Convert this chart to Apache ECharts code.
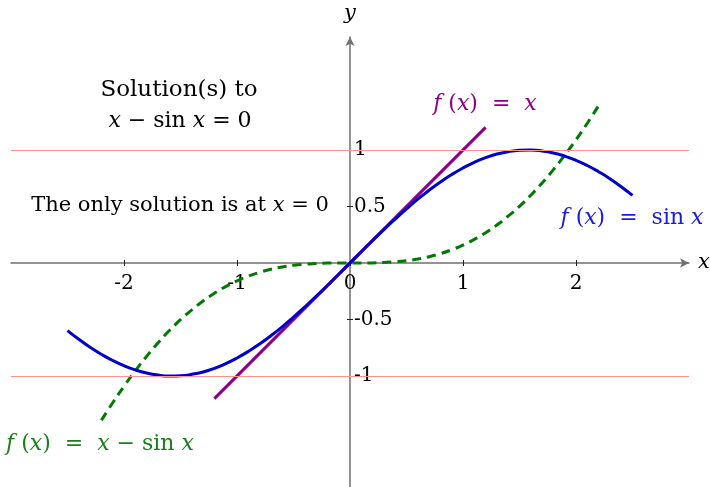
<!DOCTYPE html>
<html>
<head>
<meta charset="utf-8">
<script src="https://cdn.jsdelivr.net/npm/echarts@6/dist/echarts.min.js"></script>
<style>
  html, body { margin: 0; padding: 0; background: #fff; }
  #chart { width: 710px; height: 487px; }
</style>
</head>
<body>
<div id="chart"></div>
<script>
// sample points
var sinX = [-2.5, -2.4, -2.3, -2.2, -2.1, -2.0, -1.9, -1.8, -1.7, -1.6, -1.5, -1.4, -1.3, -1.2, -1.1, -1.0, -0.9, -0.8, -0.7, -0.6, -0.5, -0.4, -0.3, -0.2, -0.1,
  0, 0.1, 0.2, 0.3, 0.4, 0.5, 0.6, 0.7, 0.8, 0.9, 1.0, 1.1, 1.2, 1.3, 1.4, 1.5, 1.6, 1.7, 1.8, 1.9, 2.0, 2.1, 2.2, 2.3, 2.4, 2.5];
var sinY = [-0.598, -0.675, -0.746, -0.808, -0.863, -0.909, -0.946, -0.974, -0.992, -1.000, -0.997, -0.985, -0.964, -0.932, -0.891, -0.841, -0.783, -0.717, -0.644, -0.565, -0.479, -0.389, -0.296, -0.199, -0.100,
  0, 0.100, 0.199, 0.296, 0.389, 0.479, 0.565, 0.644, 0.717, 0.783, 0.841, 0.891, 0.932, 0.964, 0.985, 0.997, 1.000, 0.992, 0.974, 0.946, 0.909, 0.863, 0.808, 0.746, 0.675, 0.598];

var diffX = [-2.2, -2.1, -2.0, -1.9, -1.8, -1.7, -1.6, -1.5, -1.4, -1.3, -1.2, -1.1, -1.0, -0.9, -0.8, -0.7, -0.6, -0.5, -0.4, -0.3, -0.2, -0.1,
  0, 0.1, 0.2, 0.3, 0.4, 0.5, 0.6, 0.7, 0.8, 0.9, 1.0, 1.1, 1.2, 1.3, 1.4, 1.5, 1.6, 1.7, 1.8, 1.9, 2.0, 2.1, 2.2];
var diffY = [-1.392, -1.237, -1.091, -0.954, -0.826, -0.708, -0.600, -0.502, -0.415, -0.336, -0.268, -0.209, -0.159, -0.117, -0.083, -0.056, -0.035, -0.021, -0.011, -0.005, -0.001, 0.000,
  0, 0.000, 0.001, 0.005, 0.011, 0.021, 0.035, 0.056, 0.083, 0.117, 0.159, 0.209, 0.268, 0.336, 0.415, 0.502, 0.600, 0.708, 0.826, 0.954, 1.091, 1.237, 1.392];

var identX = [-1.2, 1.2];
var identY = [-1.2, 1.2];

var xTicks = [-2, -1, 0, 1, 2];
var yTicks = [-1, -0.5, 0.5, 1];
var refLines = [1, -1];

var SERIF = "'DejaVu Serif', serif";

function zip(xs, ys) {
  return xs.map(function (x, i) { return [x, ys[i]]; });
}

var chart = echarts.init(document.getElementById('chart'));

// grid: x -3..3 over 678px, y -2..2 over 452px -> origin at (350, 263)
var G = { left: 11, top: 37, width: 678, height: 452 };
var xShift = -(G.height / 2);   // move x axes from grid edge to y = 0
var yShift = -(G.width / 2);    // move y axes from grid edge to x = 0

var axisLineStyle = { color: '#707070', width: 1.5 };
var tickStyle = { color: '#222', width: 1 };

var option = {
  animation: false,
  grid: { left: G.left, top: G.top, width: G.width, height: G.height, outerBoundsMode: 'none', containLabel: false },
  xAxis: [
    {
      type: 'value', min: -3, max: 3, position: 'bottom', offset: xShift,
      axisLine: { onZero: false, lineStyle: axisLineStyle, symbol: ['none', 'arrow'], symbolSize: [7, 9] },
      axisTick: { show: true, length: 3, customValues: xTicks, lineStyle: tickStyle },
      axisLabel: { customValues: xTicks, color: '#000', fontFamily: SERIF, fontSize: 20, margin: 11,
        formatter: function (v) { return String(v); } },
      splitLine: { show: false },
      name: 'x', nameLocation: 'end', nameGap: 9,
      nameTextStyle: { fontFamily: SERIF, fontStyle: 'italic', fontSize: 21, color: '#000', verticalAlign: 'middle' }
    },
    {
      type: 'value', min: -3, max: 3, position: 'top', offset: xShift,
      axisLine: { show: false, onZero: false },
      axisTick: { show: true, length: 3, customValues: xTicks, lineStyle: tickStyle },
      axisLabel: { show: false },
      splitLine: { show: false }
    }
  ],
  yAxis: [
    {
      type: 'value', min: -2, max: 2, position: 'right', offset: yShift,
      axisLine: { onZero: false, lineStyle: axisLineStyle, symbol: ['none', 'arrow'], symbolSize: [7, 9] },
      axisTick: { show: true, length: 3, customValues: yTicks, lineStyle: tickStyle },
      axisLabel: { customValues: yTicks, color: '#000', fontFamily: SERIF, fontSize: 20, margin: 4,
        formatter: function (v) { return String(v); } },
      splitLine: { show: false },
      name: 'y', nameLocation: 'end', nameGap: 13,
      nameTextStyle: { fontFamily: SERIF, fontStyle: 'italic', fontSize: 21, color: '#000', align: 'center' }
    },
    {
      type: 'value', min: -2, max: 2, position: 'left', offset: yShift,
      axisLine: { show: false, onZero: false },
      axisTick: { show: true, length: 3, customValues: yTicks, lineStyle: tickStyle },
      axisLabel: { show: false },
      splitLine: { show: false }
    }
  ],
  series: [
    {
      name: 'ref', type: 'line', data: [], silent: true,
      markLine: {
        silent: true, symbol: 'none', label: { show: false },
        lineStyle: { color: '#ff9090', width: 1, type: 'solid' },
        data: refLines.map(function (v) { return { yAxis: v }; })
      }
    },
    {
      name: 'x - sin x', type: 'line', data: zip(diffX, diffY), showSymbol: false, smooth: true,
      lineStyle: { color: '#007a00', width: 3, type: [9, 6] }
    },
    {
      name: 'x', type: 'line', data: zip(identX, identY), showSymbol: false,
      lineStyle: { color: '#8b008b', width: 3 }
    },
    {
      name: 'sin x', type: 'line', data: zip(sinX, sinY), showSymbol: false, smooth: true,
      lineStyle: { color: '#0000cc', width: 3 }
    }
  ],
  graphic: [
    { type: 'text', x: 179, y: 90, style: { text: 'Solution(s) to', font: '23px ' + SERIF, fill: '#000', align: 'center', verticalAlign: 'middle' } },
    { type: 'text', x: 180, y: 121, style: { text: '{i|x} − sin {i|x} = 0', font: '22px ' + SERIF, fill: '#000', align: 'center', verticalAlign: 'middle',
      rich: { i: { fontStyle: 'italic', fontFamily: SERIF, fontSize: 22 } } } },
    { type: 'text', x: 180, y: 206, style: { text: 'The only solution is at {i|x} = 0', font: '21px ' + SERIF, fill: '#000', align: 'center', verticalAlign: 'middle',
      rich: { i: { fontStyle: 'italic', fontFamily: SERIF, fontSize: 21 } } } },
    { type: 'text', x: 485, y: 104, style: { text: '{i|f} ({i|x})  =  {i|x}', font: '22px ' + SERIF, fill: '#8b008b', align: 'center', verticalAlign: 'middle',
      rich: { i: { fontStyle: 'italic', fontFamily: SERIF, fontSize: 22 } } } },
    { type: 'text', x: 632, y: 218, style: { text: '{i|f} ({i|x})  =  sin {i|x}', font: '22px ' + SERIF, fill: '#1a1ae6', align: 'center', verticalAlign: 'middle',
      rich: { i: { fontStyle: 'italic', fontFamily: SERIF, fontSize: 22 } } } },
    { type: 'text', x: 100, y: 444, style: { text: '{i|f} ({i|x})  =  {i|x} − sin {i|x}', font: '22px ' + SERIF, fill: '#1a7f1a', align: 'center', verticalAlign: 'middle',
      rich: { i: { fontStyle: 'italic', fontFamily: SERIF, fontSize: 22 } } } }
  ]
};

chart.setOption(option);
</script>
</body>
</html>
